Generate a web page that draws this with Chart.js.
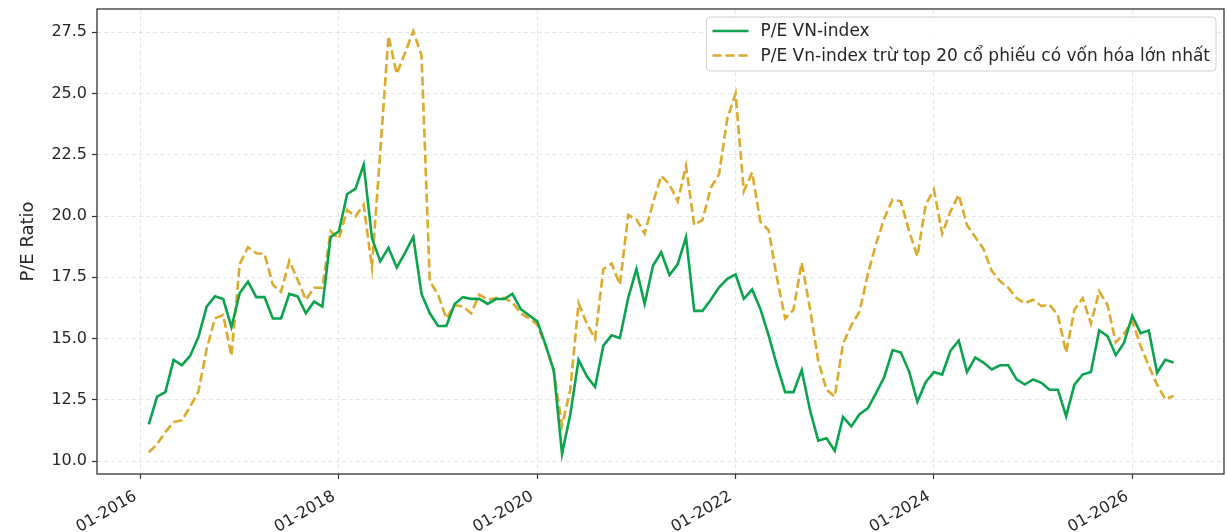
<!DOCTYPE html>
<html>
<head>
<meta charset="utf-8">
<script src="https://cdn.jsdelivr.net/npm/chart.js@4.4.1/dist/chart.umd.min.js"></script>
<style>
  html, body { margin: 0; padding: 0; background: #fff; }
  #pe { display: block; }
</style>
</head>
<body>
<canvas id="pe" width="1227" height="532"></canvas>
<script>
// Monthly P/E, Feb 2016 .. Jun 2026. x = months since Jan 2016.
const firstMonth = 1;

const seriesNames = [
  'P/E VN-index',
  'P/E Vn-index trừ top 20 cổ phiếu có vốn hóa lớn nhất',
];

const peVnIndex = [
  11.50, 12.63, 12.81, 14.13, 13.91, 14.29, 15.06, 16.30, 16.72, 16.61,
  15.47, 16.86, 17.32, 16.69, 16.69, 15.82, 15.82, 16.82, 16.72, 16.03,
  16.51, 16.30, 19.14, 19.38, 20.90, 21.11, 22.10, 19.10, 18.15, 18.70,
  17.90, 18.50, 19.15, 16.82, 16.03, 15.51, 15.51, 16.41, 16.69, 16.62,
  16.62, 16.41, 16.61, 16.61, 16.82, 16.20, 15.95, 15.70, 14.75, 13.70,
  10.30, 11.90, 14.13, 13.46, 13.02, 14.71, 15.13, 15.02, 16.65, 17.83,
  16.41, 17.97, 18.52, 17.59, 18.04, 19.14, 16.13, 16.13, 16.58, 17.09,
  17.44, 17.62, 16.62, 17.00, 16.21, 15.13, 13.91, 12.81, 12.81, 13.71,
  12.08, 10.83, 10.93, 10.42, 11.80, 11.41, 11.91, 12.15, 12.77, 13.44,
  14.53, 14.43, 13.65, 12.42, 13.22, 13.63, 13.53, 14.50, 14.92, 13.63,
  14.22, 14.02, 13.74, 13.91, 13.91, 13.33, 13.12, 13.33, 13.19, 12.91,
  12.91, 11.83, 13.12, 13.53, 13.63, 15.33, 15.10, 14.32, 14.82, 15.93,
  15.22, 15.33, 13.60, 14.13, 14.02,
];

const peExTop20 = [
  10.35, 10.69, 11.18, 11.59, 11.66, 12.22, 12.84, 14.57, 15.82, 15.96,
  14.29, 18.04, 18.73, 18.48, 18.45, 17.20, 16.90, 18.17, 17.41, 16.58,
  17.07, 17.07, 19.38, 19.07, 20.25, 19.98, 20.46, 17.90, 22.60, 27.35,
  25.80, 26.65, 27.55, 26.55, 17.34, 16.79, 15.82, 16.37, 16.30, 16.03,
  16.79, 16.58, 16.65, 16.65, 16.47, 16.03, 15.82, 15.57, 14.71, 13.67,
  11.45, 12.91, 16.44, 15.61, 14.99, 17.83, 18.06, 17.20, 20.04, 19.86,
  19.28, 20.53, 21.64, 21.29, 20.60, 22.05, 19.63, 19.84, 21.15, 21.71,
  23.99, 24.99, 21.01, 21.78, 19.77, 19.42, 17.48, 15.82, 16.17, 18.10,
  16.23, 14.09, 12.91, 12.63, 14.78, 15.54, 16.10, 17.62, 18.87, 19.91,
  20.67, 20.60, 19.38, 18.35, 20.45, 21.08, 19.28, 20.18, 20.87, 19.63,
  19.14, 18.66, 17.76, 17.34, 17.07, 16.65, 16.44, 16.58, 16.33, 16.37,
  15.96, 14.43, 16.17, 16.65, 15.61, 16.93, 16.37, 14.85, 15.19, 15.71,
  14.71, 13.88, 13.12, 12.52, 12.66,
];

const xTicks = [0, 24, 48, 72, 96, 120];          // Jan of 2016, 2018, ... 2026
const yTicks = [10, 12.5, 15, 17.5, 20, 22.5, 25, 27.5];

const FONT = "'DejaVu Sans', sans-serif";
const GREEN = '#0ca34e';
const GOLD = '#dcaa2c';
const TEXT = '#262626';

const toPoints = (vals) => vals.map((v, i) => ({ x: firstMonth + i, y: v }));

// matplotlib-like frame + legend box in the upper right
const frameAndLegend = {
  id: 'frameAndLegend',
  afterDraw(chart) {
    const { ctx, chartArea: a } = chart;
    ctx.save();
    ctx.strokeStyle = '#333';
    ctx.lineWidth = 1.3;
    ctx.strokeRect(a.left, a.top, a.right - a.left, a.bottom - a.top);

    ctx.font = '17px ' + FONT;
    const textW = Math.max(...seriesNames.map(s => ctx.measureText(s).width));
    const right = a.right - 8, top = a.top + 8;
    const left = right - (6 + 36 + 12 + textW + 6);
    const h = 54;
    ctx.beginPath();
    ctx.roundRect(left, top, right - left, h, 4);
    ctx.fillStyle = 'rgba(255,255,255,0.85)';
    ctx.fill();
    ctx.strokeStyle = '#d0d0d0';
    ctx.lineWidth = 1;
    ctx.stroke();

    const rows = [top + 14, top + 38.5];
    const styles = [
      { color: GREEN, dash: [] },
      { color: GOLD, dash: [9, 4] },
    ];
    rows.forEach((y, i) => {
      ctx.beginPath();
      ctx.setLineDash(styles[i].dash);
      ctx.strokeStyle = styles[i].color;
      ctx.lineWidth = 2.6;
      ctx.moveTo(left + 6, y);
      ctx.lineTo(left + 42, y);
      ctx.stroke();
      ctx.setLineDash([]);
      ctx.fillStyle = TEXT;
      ctx.textBaseline = 'middle';
      ctx.textAlign = 'left';
      ctx.fillText(seriesNames[i], left + 54, y + 1);
    });
    ctx.restore();
  }
};

new Chart(document.getElementById('pe').getContext('2d'), {
  type: 'line',
  data: {
    datasets: [
      {
        label: seriesNames[0],
        data: toPoints(peVnIndex),
        borderColor: GREEN,
        borderWidth: 2.6,
        pointRadius: 0,
        tension: 0,
      },
      {
        label: seriesNames[1],
        data: toPoints(peExTop20),
        borderColor: GOLD,
        borderWidth: 2.6,
        borderDash: [9, 4],
        pointRadius: 0,
        tension: 0,
      },
    ]
  },
  options: {
    responsive: false,
    devicePixelRatio: 1,
    animation: false,
    layout: { padding: { top: 9, right: 3, left: 0, bottom: 0 } },
    plugins: {
      legend: { display: false },
      tooltip: { enabled: false },
    },
    scales: {
      x: {
        type: 'linear',
        min: -5.27,
        max: 131.1,
        afterBuildTicks: (s) => { s.ticks = xTicks.map(v => ({ value: v })); },
        afterFit: (s) => { s.height = 58; s.paddingLeft = 0; s.paddingRight = 0; },
        ticks: {
          autoSkip: false,
          minRotation: 30,
          maxRotation: 30,
          padding: 8,
          labelOffset: -5,
          color: TEXT,
          font: { family: FONT, size: 16 },
          callback: (v) => '01-' + (2016 + v / 12),
        },
        grid: {
          color: 'rgba(0,0,0,0.13)',
          lineWidth: 0.8,
          tickColor: '#333',
          tickLength: 5,
          tickWidth: 1.2,
        },
        border: { display: false, dash: [4, 3] },
      },
      y: {
        min: 9.47,
        max: 28.45,
        afterBuildTicks: (s) => { s.ticks = yTicks.map(v => ({ value: v })); },
        afterFit: (s) => { s.width = 97; s.paddingTop = 0; s.paddingBottom = 0; },
        ticks: {
          padding: 5,
          color: TEXT,
          font: { family: FONT, size: 16 },
          callback: (v) => v.toFixed(1),
        },
        grid: {
          color: 'rgba(0,0,0,0.13)',
          lineWidth: 0.8,
          tickColor: '#333',
          tickLength: 5,
          tickWidth: 1.2,
        },
        border: { display: false, dash: [4, 3] },
        title: {
          display: true,
          text: 'P/E Ratio',
          color: TEXT,
          font: { family: FONT, size: 18 },
          padding: { top: 18, bottom: 0 },
        },
      }
    }
  },
  plugins: [frameAndLegend]
});
</script>
</body>
</html>
